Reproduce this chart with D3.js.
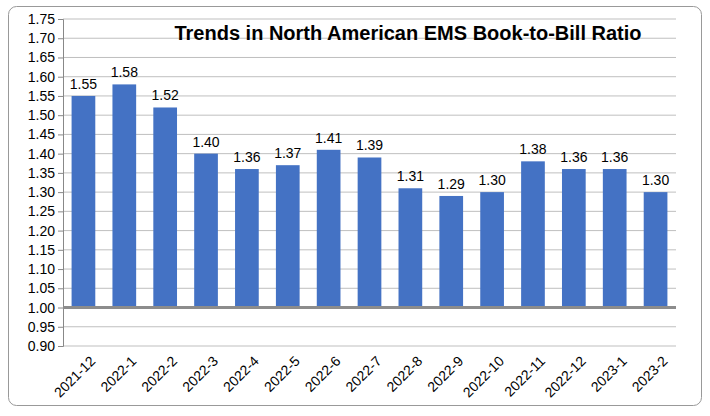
<!DOCTYPE html><html><head><script src="https://cdn.jsdelivr.net/npm/d3@7"></script>
<style>body{margin:0;background:#fff}text{font-family:"Liberation Sans",Arial,sans-serif}</style></head><body>
<svg id="c" width="710" height="416"></svg>
<script>
const categories=["2021-12","2022-1","2022-2","2022-3","2022-4","2022-5","2022-6","2022-7","2022-8","2022-9","2022-10","2022-11","2022-12","2023-1","2023-2"];
const values=[1.55,1.58,1.52,1.40,1.36,1.37,1.41,1.39,1.31,1.29,1.30,1.38,1.36,1.36,1.30];
const yTicks=d3.range(0,18).map(i=>+(0.90+i*0.05).toFixed(2));
const svg=d3.select("#c");
svg.append("rect").attr("x",8.5).attr("y",6.5).attr("width",693).attr("height",399).attr("rx",8).attr("fill","#fff").attr("stroke","#999");
const x=d3.scaleBand().domain(categories).range([63,676]).paddingInner(0.42).paddingOuter(0.21);
const y=d3.scaleLinear().domain([0.9,1.75]).range([346,19]);
svg.append("g").selectAll("line").data(yTicks).join("line").attr("x1",63).attr("x2",676).attr("y1",d=>y(d)).attr("y2",d=>y(d)).attr("stroke","#bfbfbf");
svg.append("g").attr("transform","translate(63,0)").call(d3.axisLeft(y).tickValues(yTicks).tickFormat(d3.format(".2f")).tickSize(5))
 .call(g=>{g.select(".domain").attr("stroke","#888");g.selectAll("line").attr("stroke","#888");g.selectAll("text").attr("font-size",14).attr("fill","#000").attr("font-family","Liberation Sans,Arial");});
svg.append("g").selectAll("rect").data(values).join("rect").attr("x",(d,i)=>x(categories[i])).attr("width",x.bandwidth())
 .attr("y",d=>y(d)).attr("height",d=>y(1)-y(d)).attr("fill","#4472C4");
svg.append("line").attr("x1",63).attr("x2",676).attr("y1",y(1)).attr("y2",y(1)).attr("stroke","#8c8c8c").attr("stroke-width",3);
svg.append("g").selectAll("text").data(values).join("text").attr("x",(d,i)=>x(categories[i])+x.bandwidth()/2).attr("y",d=>y(d)-7)
 .attr("text-anchor","middle").attr("font-size",14).text(d=>d.toFixed(2));
svg.append("g").selectAll("text").data(categories).join("text")
 .attr("transform",d=>`translate(${x(d)+x.bandwidth()/2+6},${355}) rotate(-45)`).attr("text-anchor","end").attr("dy","0.7em").attr("font-size",14).text(d=>d);
svg.append("text").attr("x",408).attr("y",40).attr("text-anchor","middle").attr("font-size",20).attr("font-weight","bold").text("Trends in North American EMS Book-to-Bill Ratio");
</script></body></html>
